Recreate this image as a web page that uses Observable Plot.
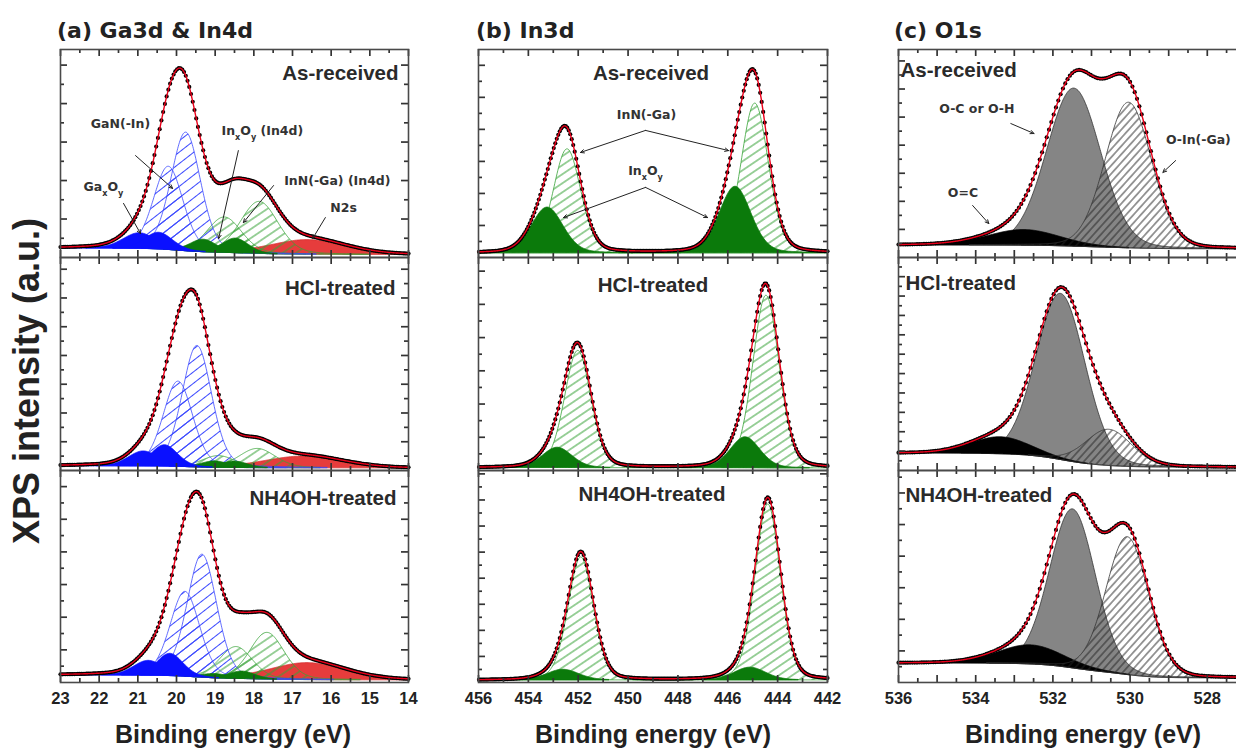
<!DOCTYPE html>
<html>
<head>
<meta charset="utf-8">
<script src="https://cdn.jsdelivr.net/npm/d3@7"></script>
<script src="https://cdn.jsdelivr.net/npm/@observablehq/plot@0.6"></script>
<style>
  html, body { margin: 0; padding: 0; background: #fff; overflow: hidden; }
  #fig { position: relative; width: 1236px; height: 750px; overflow: hidden; background: #fff;
         font-family: Arial, "Liberation Sans", sans-serif; color: #222; }
  .col-title { position: absolute; font-family: "DejaVu Sans", sans-serif; font-weight: bold;
               font-size: 22px; line-height: 1; white-space: nowrap; color: #222; }
  .x-title { position: absolute; font-weight: bold; font-size: 25px; line-height: 1;
             white-space: nowrap; transform: translateX(-50%); color: #222; }
  .y-title { position: absolute; font-weight: bold; font-size: 36px; line-height: 1;
             white-space: nowrap; transform: translate(-50%, -50%) rotate(-90deg); color: #222; }
  .panel { position: absolute; }
</style>
</head>
<body>
<div id="fig">
  <svg width="0" height="0" style="position:absolute">
    <defs>
      <pattern id="hatchBlue" patternUnits="userSpaceOnUse" width="9" height="9" patternTransform="rotate(52)">
        <line x1="4.5" y1="-1" x2="4.5" y2="10" stroke="#3a48ff" stroke-width="1"/>
      </pattern>
      <pattern id="hatchGreen" patternUnits="userSpaceOnUse" width="7.5" height="7.5" patternTransform="rotate(56)">
        <line x1="3.75" y1="-1" x2="3.75" y2="8.5" stroke="#37a337" stroke-width="1"/>
      </pattern>
      <pattern id="hatchBlack" patternUnits="userSpaceOnUse" width="5.5" height="5.5" patternTransform="rotate(42)">
        <line x1="2.75" y1="-1" x2="2.75" y2="6.5" stroke="#222" stroke-width="0.9"/>
      </pattern>
    </defs>
  </svg>
</div>
<script>
// ---------------------------------------------------------------------------
// Labels and axes
const columnTitles = ["(a) Ga3d & In4d", "(b) In3d", "(c) O1s"];
const treatments = ["As-received", "HCl-treated", "NH4OH-treated"];
const energyDomains = [[23, 14], [456, 442], [536, 527]];
const energyTickLabels = [
  [23, 22, 21, 20, 19, 18, 17, 16, 15, 14],
  [456, 454, 452, 450, 448, 446, 444, 442],
  [536, 534, 532, 530, 528]
];
const energyMinorStep = [0.5, 1, 0.5];
const energyMajorStep = [1, 2, 1];

// Fitted components per spectrum: [row, component, centre (eV), height, FWHM (eV)]
// row 0 = as-received, 1 = HCl-treated, 2 = NH4OH-treated; heights in panel fractions
const ga3dPeaks = [
  [0, "N2s", 16.6, 0.07, 2.3],
  [0, "InN", 18.75, 0.17, 1.05], [0, "InN", 17.85, 0.25, 1.15],
  [0, "GaN", 20.2, 0.40, 0.9],   [0, "GaN", 19.75, 0.57, 0.9],
  [0, "InOx", 19.3, 0.06, 0.8],  [0, "InOx", 18.47, 0.07, 0.8],
  [0, "GaOx", 20.95, 0.075, 1.0], [0, "GaOx", 20.45, 0.08, 0.85],

  [1, "N2s", 16.7, 0.055, 2.4],
  [1, "InN", 18.9, 0.055, 1.0],  [1, "InN", 17.9, 0.09, 1.1],
  [1, "GaN", 19.95, 0.40, 0.9],  [1, "GaN", 19.46, 0.57, 0.9],
  [1, "InOx", 19.0, 0.03, 0.8],  [1, "InOx", 18.5, 0.03, 0.8],
  [1, "GaOx", 20.85, 0.07, 0.9], [1, "GaOx", 20.3, 0.10, 0.8],

  [2, "N2s", 16.6, 0.08, 2.3],
  [2, "InN", 18.45, 0.15, 1.0],  [2, "InN", 17.65, 0.22, 1.05],
  [2, "GaN", 19.77, 0.40, 0.9],  [2, "GaN", 19.33, 0.58, 0.9],
  [2, "InOx", 19.0, 0.02, 0.8],  [2, "InOx", 18.3, 0.035, 0.8],
  [2, "GaOx", 20.72, 0.07, 0.9], [2, "GaOx", 20.16, 0.105, 0.8]
];
const in3dPeaks = [
  [0, "InN", 452.43, 0.50, 1.3],  [0, "InN", 444.9, 0.72, 1.3],
  [0, "InOx", 453.23, 0.22, 1.5], [0, "InOx", 445.69, 0.32, 1.5],
  [1, "InN", 452.0, 0.55, 1.25],  [1, "InN", 444.45, 0.81, 1.25],
  [1, "InOx", 452.83, 0.095, 1.4], [1, "InOx", 445.29, 0.145, 1.4],
  [2, "InN", 451.88, 0.58, 1.2],  [2, "InN", 444.38, 0.83, 1.2],
  [2, "InOx", 452.6, 0.05, 1.5],  [2, "InOx", 445.1, 0.06, 1.5]
];
const o1sPeaks = [
  [0, "OC", 531.45, 0.76, 1.65], [0, "OdC", 532.75, 0.075, 2.2], [0, "OIn", 530.03, 0.70, 1.42],
  [1, "OC", 531.79, 0.78, 1.5],  [1, "OdC", 533.35, 0.08, 1.8],  [1, "OIn", 530.54, 0.17, 1.4],
  [2, "OC", 531.48, 0.75, 1.4],  [2, "OdC", 532.57, 0.09, 2.0],  [2, "OIn", 530.06, 0.65, 1.3]
];
// Shirley background end levels [high-BE side, low-BE side] per row
const ga3dBackground = [[0.043, 0.012], [0.02, 0.01], [0.033, 0.01]];
const in3dBackground = [[0.02, 0.02], [0.012, 0.01], [0.01, 0.01]];
const o1sBackground = [[0.058, 0.04], [0.08, 0.014], [0.09, 0.02]];
const lorentzFraction = [0.2, 0.2, 0.1];

// Annotations (energy, intensity fraction) for the as-received spectra
const ga3dNotes = [
  {E: 21.45, u: 0.644, t: "GaN(-In)"},
  {E: 21.89, u: 0.337, t: "Ga_xO_y"},
  {E: 17.78, u: 0.61, t: "In_xO_y (In4d)"},
  {E: 15.84, u: 0.37, t: "InN(-Ga) (In4d)"},
  {E: 15.68, u: 0.24, t: "N2s"}
];
const ga3dArrows = [
  [21.06, 0.49, 20.10, 0.332], [21.37, 0.26, 20.93, 0.115], [18.40, 0.514, 18.91, 0.091],
  [17.49, 0.346, 18.27, 0.168], [16.15, 0.192, 16.48, 0.091]
];
const in3dNotes = [
  {E: 449.26, u: 0.683, t: "InN(-Ga)"},
  {E: 449.3, u: 0.418, t: "In_xO_y"}
];
const in3dArrows = [
  [449.30, 0.611, 451.91, 0.505], [449.30, 0.611, 445.97, 0.514],
  [449.30, 0.337, 452.59, 0.192], [449.30, 0.337, 446.81, 0.192]
];
const o1sNotes = [
  {E: 533.97, u: 0.716, t: "O-C or O-H"},
  {E: 529.07, u: 0.5625, t: "O-In(-Ga)", anchor: "start"},
  {E: 534.33, u: 0.308, t: "O=C"}
];
const o1sArrows = [
  [533.09, 0.644, 532.49, 0.596], [528.82, 0.466, 529.15, 0.409], [534.08, 0.25, 533.66, 0.163]
];

// ---------------------------------------------------------------------------
// Component styles, in drawing order
const componentStyle = {
  N2s:  {order: 0, fill: "#e63c3c", stroke: "#d43030"},
  GaN:  {order: 1, fill: "url(#hatchBlue)", stroke: "#3a48ff"},
  InN:  {order: 1, fill: "url(#hatchGreen)", stroke: "#37a337"},
  GaOx: {order: 2, fill: "#0a10ff", stroke: "#0a10ff"},
  InOx: {order: 2, fill: "#0b7a0b", stroke: "#0b7a0b"},
  OC:   {order: 0, fill: "#858585", stroke: "#333"},
  OdC:  {order: 1, fill: "#000", stroke: "#000"},
  OIn:  {order: 2, fill: "url(#hatchBlack)", stroke: "#333"}
};

const columns = [
  {peaks: ga3dPeaks, bg: ga3dBackground, step: 0.015, dotStep: 0.045, notes: ga3dNotes, arrows: ga3dArrows},
  {peaks: in3dPeaks, bg: in3dBackground, step: 0.03, dotStep: 0.07, notes: in3dNotes, arrows: in3dArrows},
  {peaks: o1sPeaks, bg: o1sBackground, step: 0.015, dotStep: 0.06, notes: o1sNotes, arrows: o1sArrows}
];

// Layout of the nine frames (pixels)
const frameLeft = [60, 478, 897.7];
const frameWidth = [348, 349, 347.4];
const rowTop = [49, 257, 470];
const rowHeight = [208, 213, 212];
const yTickStep = [[0.185, 0.135, 0.154], [0.154, 0.156, 0.123], [0.135, 0.091, 0.149]];
const sampleLabelPos = [
  {frameAnchor: "top-right", textAnchor: "end", dx: [-10, -13, -12], dy: [24, 31, 28]},
  {frameAnchor: "top", textAnchor: "middle", dx: [-2, 0, -1], dy: [24, 28, 24]},
  {frameAnchor: "top-left", textAnchor: "start", dx: [2, 7, 7], dy: [21, 26, 25]}
];

// Pseudo-Voigt line shape
function lineShape(E, c, h, w, eta) {
  const t = (E - c) / w;
  return h * (eta / (1 + 4 * t * t) + (1 - eta) * Math.exp(-4 * Math.LN2 * t * t));
}

// Sum of components on a Shirley background
function buildSpectrum(col, row) {
  const {peaks, bg, step} = columns[col];
  const eta = lorentzFraction[col];
  const [a, b] = energyDomains[col];
  const lo = Math.min(a, b), hi = Math.max(a, b);
  const comps = peaks.filter(p => p[0] === row);
  const n = Math.round((hi - lo) / step);
  const grid = d3.range(n + 1).map(i => lo + i * step);
  const P = grid.map(E => d3.sum(comps, p => lineShape(E, p[2], p[3], p[4], eta)));
  let acc = 0;
  const S = P.map(v => (acc += v));
  const [bgHi, bgLo] = bg[row];
  const rows = grid.map((E, i) => {
    const base = bgLo + (bgHi - bgLo) * S[i] / acc;
    return {E, bg: base, total: base + P[i]};
  });
  return {rows, comps, eta};
}

function subscripts(svg) {
  svg.querySelectorAll("text").forEach(t => {
    const s = t.textContent;
    if (!s.includes("_")) return;
    t.textContent = "";
    for (const part of s.split(/(_[a-z])/)) {
      if (!part) continue;
      const ts = document.createElementNS("http://www.w3.org/2000/svg", "tspan");
      if (part[0] === "_") {
        ts.textContent = part[1];
        ts.setAttribute("font-size", "65%");
        ts.setAttribute("baseline-shift", "sub");
      } else ts.textContent = part;
      t.appendChild(ts);
    }
  });
}

const fig = document.getElementById("fig");
const annotFont = "'DejaVu Sans', sans-serif";

function drawPanel(col, row) {
  const bottom = row === 2;
  const m = 2, extra = bottom ? 34 : 0;
  const W = frameWidth[col], H = rowHeight[row];
  const {rows, comps, eta} = buildSpectrum(col, row);
  const [d0, d1] = energyDomains[col];
  const marks = [];

  const ordered = comps.slice().sort((p, q) => componentStyle[p[1]].order - componentStyle[q[1]].order);
  for (const p of ordered) {
    const st = componentStyle[p[1]];
    const area = rows
      .map(d => ({E: d.E, y1: d.bg, y2: d.bg + lineShape(d.E, p[2], p[3], p[4], eta)}))
      .filter(d => d.y2 - d.y1 > 0.002);
    marks.push(Plot.areaY(area, {x: "E", y1: "y1", y2: "y2", fill: st.fill, stroke: st.stroke,
                                 strokeWidth: 0.8}));
  }

  // measured points and fitted envelope
  const stride = Math.max(1, Math.round(columns[col].dotStep / columns[col].step));
  marks.push(Plot.dot(rows.filter((d, i) => i % stride === 0),
                      {x: "E", y: "total", r: 2.1, fill: "#000", stroke: null}));
  marks.push(Plot.line(rows, {x: "E", y: "total", stroke: "#e8001a", strokeWidth: 1.4}));

  // sample label
  const sl = sampleLabelPos[col];
  marks.push(Plot.text([treatments[row]], {
    text: d => d, frameAnchor: sl.frameAnchor, textAnchor: sl.textAnchor, lineAnchor: "middle",
    dx: sl.dx[row], dy: sl.dy[row], fontSize: 20.5, fontWeight: "bold",
    fontFamily: "Arial, 'Liberation Sans', sans-serif", fill: "#2a2a2a"
  }));

  // component annotations on the as-received spectra
  if (row === 0) {
    const cfg = columns[col];
    marks.push(Plot.arrow(cfg.arrows, {x1: d => d[0], y1: d => d[1], x2: d => d[2], y2: d => d[3],
      stroke: "#222", strokeWidth: 1, headLength: 6, headAngle: 50}));
    for (const anchor of ["middle", "start"]) {
      marks.push(Plot.text(cfg.notes.filter(d => (d.anchor || "middle") === anchor), {
        x: "E", y: "u", text: "t", textAnchor: anchor, lineAnchor: "middle",
        fontSize: 12.5, fontWeight: "bold", fontFamily: annotFont, fill: "#333"}));
    }
  }

  // inward ticks on all four sides
  const lo = Math.min(d0, d1), hi = Math.max(d0, d1);
  const major = d3.range(Math.ceil(lo), hi + 1e-9, energyMajorStep[col]);
  const minor = d3.range(Math.ceil(lo / energyMinorStep[col]) * energyMinorStep[col], hi + 1e-9, energyMinorStep[col])
    .filter(v => !major.includes(v));
  const ys = yTickStep[col][row];
  const yMajor = d3.range(ys, 0.999, ys);
  const yMinor = yMajor.map(v => v - ys / 2).concat([yMajor[yMajor.length - 1] + ys / 2]).filter(v => v > 0 && v < 1);
  const tk = {stroke: "#333", strokeWidth: 1.7};
  const xTicks = (values, len) => [
    Plot.tickX(values, {...tk, x: d => d, insetBottom: H - len}),
    Plot.tickX(values, {...tk, x: d => d, insetTop: H - len})
  ];
  const yTicks = (values, len) => [
    Plot.tickY(values, {...tk, y: d => d, insetRight: W - len}),
    Plot.tickY(values, {...tk, y: d => d, insetLeft: W - len})
  ];
  marks.push(...xTicks(minor, 4), ...xTicks(major, 7), ...yTicks(yMinor, 4), ...yTicks(yMajor, 7));

  if (bottom) {
    marks.push(Plot.axisX({anchor: "bottom", ticks: energyTickLabels[col], tickSize: 0, tickPadding: 10,
      tickFormat: d => String(d), fontSize: 16.5, fontWeight: "bold", fill: "#222", label: null}));
  }
  marks.push(Plot.frame({stroke: "#4a4a4a", strokeWidth: 1.6}));

  const svg = Plot.plot({
    width: W + 2 * m,
    height: H + 2 * m + extra,
    marginLeft: m, marginRight: m, marginTop: m, marginBottom: m + extra,
    x: {domain: energyDomains[col], label: null, axis: bottom ? undefined : null},
    y: {domain: [0, 1], label: null, axis: null},
    style: {overflow: "visible", background: "transparent",
            fontFamily: "Arial, 'Liberation Sans', sans-serif"},
    marks
  });
  subscripts(svg);
  svg.classList.add("panel");
  svg.style.position = "absolute";
  svg.style.left = (frameLeft[col] - m) + "px";
  svg.style.top = (rowTop[row] - m) + "px";
  fig.appendChild(svg);
}

for (let col = 0; col < 3; ++col) for (let row = 0; row < 3; ++row) drawPanel(col, row);

// titles
const titleLeft = [57, 476, 894];
columnTitles.forEach((t, i) => {
  const div = document.createElement("div");
  div.className = "col-title";
  div.style.left = titleLeft[i] + "px";
  div.style.top = "20px";
  div.textContent = t;
  fig.appendChild(div);
});
const xTitleCentre = [233, 653, 1083];
xTitleCentre.forEach(x => {
  const div = document.createElement("div");
  div.className = "x-title";
  div.style.left = x + "px";
  div.style.top = "722px";
  div.textContent = "Binding energy (eV)";
  fig.appendChild(div);
});
const yt = document.createElement("div");
yt.className = "y-title";
yt.style.left = "27px";
yt.style.top = "381px";
yt.textContent = "XPS intensity (a.u.)";
fig.appendChild(yt);
</script>
</body>
</html>
